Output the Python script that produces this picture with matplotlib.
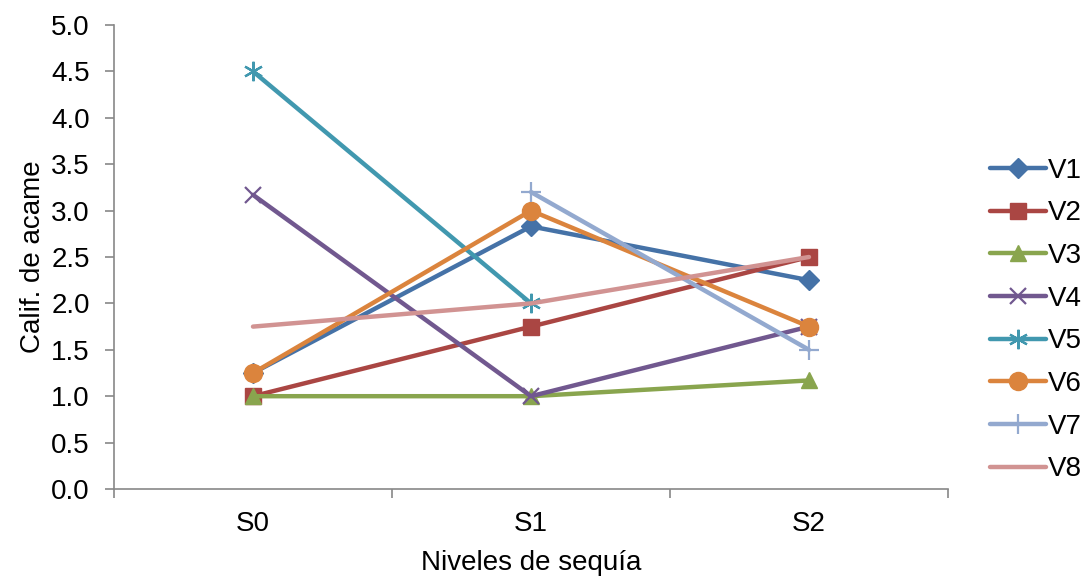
import numpy as np
import matplotlib
matplotlib.use("Agg")
import matplotlib.pyplot as plt

plt.rcParams["font.family"] = ["Liberation Sans", "DejaVu Sans"]

# ---------------------------------------------------------------- data
categories = ["S0", "S1", "S2"]
V1 = [1.25, 2.83, 2.25]
V2 = [1.0, 1.75, 2.5]
V3 = [1.0, 1.0, 1.17]
V4 = [3.17, 1.0, 1.75]
V5 = [4.5, 2.0, np.nan]
V6 = [1.25, 3.0, 1.75]
V7 = [np.nan, 3.2, 1.5]
V8 = [1.75, 2.0, 2.5]

series = [
    ("V1", V1, "#4572A7", "D", 10),
    ("V2", V2, "#AA4643", "s", 11),
    ("V3", V3, "#89A54E", "^", 12),
    ("V4", V4, "#71588F", "x", 12),
    ("V5", V5, "#4198AF", (6, 2, 0), 14),
    ("V6", V6, "#DB843D", "o", 13),
    ("V7", V7, "#93A9CF", "+", 14),
    ("V8", V8, "#D19392", None, 0),
]

W, H = 1088, 580
fig = plt.figure(figsize=(W / 100, H / 100), dpi=100)
ax = fig.add_axes([114 / W, 1 - 489 / H, (948 - 114) / W, (489 - 25) / H])

x = np.arange(len(categories))
for name, vals, col, mk, ms in series:
    thin = mk in ("x", "+") or isinstance(mk, tuple)
    ax.plot(x, vals, color=col, lw=3.2, marker=mk, markersize=ms,
            markeredgewidth=1.6 if thin else 1,
            markerfacecolor=col, markeredgecolor=col,
            solid_capstyle="round", label=name)

yt = np.arange(0, 5.01, 0.5)
ax.set_xlim(-0.5, 2.5)
ax.set_ylim(0, 5)
ax.set_yticks(yt)
ax.set_yticklabels([f"{v:.1f}" for v in yt])
ax.set_xticks(x)
ax.set_xticklabels(categories)
ax.set_xticks([-0.5, 0.5, 1.5, 2.5], minor=True)
ax.tick_params(axis="x", which="major", length=0, pad=16, labelsize=20)
ax.tick_params(axis="x", which="minor", length=6.5, width=1.2, color="#888888")
ax.tick_params(axis="y", length=6.5, width=1.2, color="#888888", labelsize=20, pad=11)

for s in ("top", "right"):
    ax.spines[s].set_visible(False)
for s in ("left", "bottom"):
    ax.spines[s].set_color("#888888")
    ax.spines[s].set_linewidth(1.2)

ax.set_xlabel("Niveles de sequía", fontsize=20, labelpad=9)
ax.set_ylabel("Calif. de acame", fontsize=20, labelpad=4)

ax.legend(loc="center left", bbox_to_anchor=(990 / W, 1 - 320 / H),
          bbox_transform=fig.transFigure, frameon=False, borderpad=0,
          borderaxespad=0, fontsize=20, handlelength=2.0,
          labelspacing=0.6, handletextpad=0.1)

fig.savefig("out.png", dpi=100)
